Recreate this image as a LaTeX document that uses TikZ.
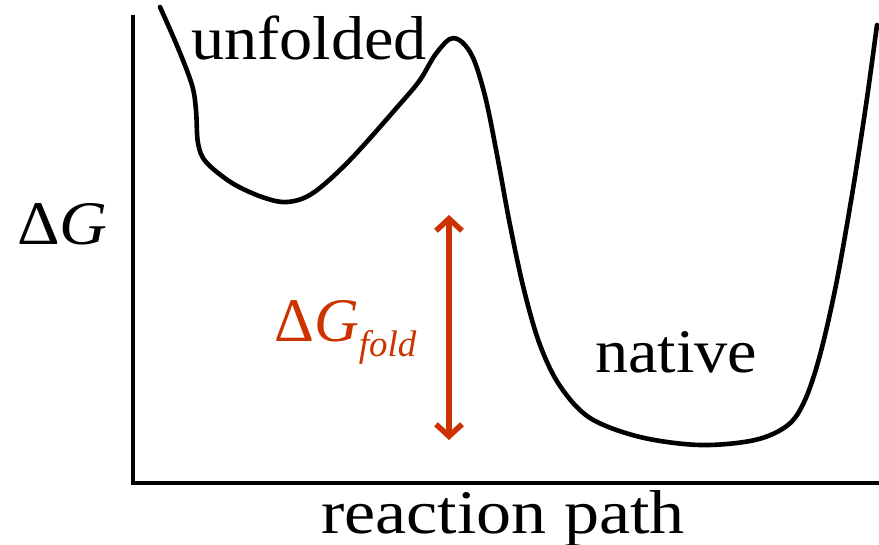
\documentclass[tikz,border=0pt]{standalone}
\usepackage{fontspec}
\setmainfont{Liberation Serif}[FakeStretch=1.07]
\usetikzlibrary{arrows.meta}
\definecolor{foldred}{RGB}{204,51,0}
\tikzset{
  axisline/.style={line width=4pt, line cap=rect},
  curveline/.style={line width=4.6pt, line cap=round, line join=round},
  lbl/.style={inner sep=0pt, anchor=base west, font=\fontsize{62}{70}\selectfont},
  gaparrow/.style={foldred, line width=5.8pt, {Straight Barb[length=12pt,width=26pt,line width=5.5pt]}-{Straight Barb[length=12pt,width=26pt,line width=5.5pt]}}
}
\begin{document}
\begin{tikzpicture}[x=1pt,y=-1pt]
\useasboundingbox (0,0) rectangle (879,545);
% axes
\coordinate (ytop) at (133,17);
\coordinate (origin) at (133,483);
\coordinate (xend) at (879,483);
\draw[axisline] (ytop) -- (origin) -- (xend);
% energy curve
\draw[curveline] plot[smooth, tension=0.55] coordinates {
  (160,7) (178,48) (192,85) (196,110) (198,143) (206,162) (232,183) (262,197)
  (287,202) (313,193) (350,160) (400,104) (420,80) (435,55) (450,39) (462,42)
  (474,60) (486,100) (498,160) (510,225) (524,290) (540,345) (560,386) (590,418)
  (640,437) (700,445) (755,440) (788,425) (805,400) (820,355) (836,285) (852,195)
  (866,105) (877,25)};
% labels
\node[lbl] (unf) at (191,60) {unfolded};
\node[lbl] (nat) at (595,373) {native};
\node[lbl] (rp) at (321,533) {\addfontfeatures{FakeStretch=1.13}reaction path};
\node[lbl] (dg) at (17,245) {Δ\textit{G}};
\node[lbl, text=foldred] (dgf) at (274,342) {\addfontfeatures{FakeStretch=1.0}Δ\textit{G}\raisebox{-0.24em}{\fontsize{37}{40}\selectfont\textit{fold}}};
% folding energy arrow
\coordinate (atop) at (449,215);
\coordinate (abot) at (449,440);
\draw[gaparrow] (abot) -- (atop);
\end{tikzpicture}
\end{document}
